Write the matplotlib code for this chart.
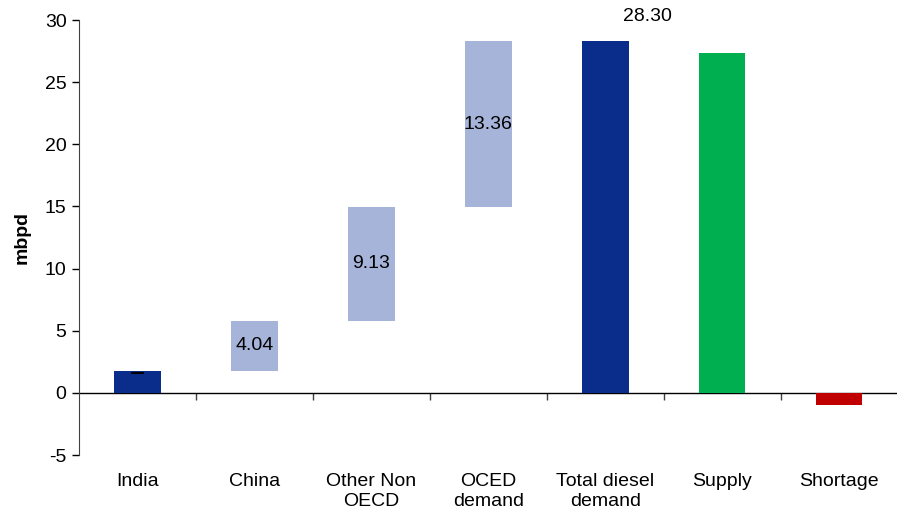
import matplotlib
matplotlib.use("Agg")
import matplotlib.pyplot as plt

plt.rcParams['font.family'] = ['Liberation Sans', 'DejaVu Sans']
plt.rcParams['axes.unicode_minus'] = False

# data
categories = ["India", "China", "Other Non\nOECD", "OCED\ndemand",
              "Total diesel\ndemand", "Supply", "Shortage"]
increments = [1.77, 4.04, 9.13, 13.36]
total = 28.30
supply = 27.33
shortage = -0.97

dark_blue = "#0A2D8C"
light_blue = "#A6B4DA"
green = "#00B050"
red = "#C00000"

fig = plt.figure(figsize=(9.05, 5.13), dpi=100)
ax = fig.add_axes([0.0873, 0.113, 0.9044, 0.848])

# waterfall steps
base = 0
for i, v in enumerate(increments):
    col = dark_blue if i == 0 else light_blue
    ax.bar(i, v, bottom=base, width=0.4, color=col, zorder=2)
    if i == 0:
        ax.plot([i - 0.05, i + 0.05], [v - 0.15, v - 0.15], color="black", lw=1.5, zorder=3)
    else:
        ax.text(i, base + v / 2, f"{v:.2f}", ha="center", va="center", fontsize=14, zorder=3)
    base += v

ax.bar(4, total, width=0.4, color=dark_blue, zorder=2)
ax.text(4.36, total + 1.3, f"{total:.2f}", ha="center", va="bottom", fontsize=14)
ax.bar(5, supply, width=0.4, color=green, zorder=2)
ax.bar(6, shortage, width=0.4, color=red, zorder=2)

ax.axhline(0, color="black", lw=1, zorder=1)

ax.set_xlim(-0.5, 6.5)
ax.set_ylim(-5, 30)
ax.set_yticks(range(-5, 31, 5))
ax.tick_params(axis="y", labelsize=14, length=5, width=1, pad=4)
ax.set_xticks(range(len(categories)))
ax.set_xticklabels(categories, fontsize=14, linespacing=1.2)
ax.tick_params(axis="x", length=0, pad=13)

for s in ["top", "right", "bottom"]:
    ax.spines[s].set_visible(False)
ax.spines["left"].set_color("#404040")

# tick marks between categories on the zero line
sec = ax.secondary_xaxis(5 / 35)
sec.set_xticks([i + 0.5 for i in range(len(categories) - 1)])
sec.set_xticklabels([])
sec.tick_params(length=5, width=1, color="#404040")
sec.spines["bottom"].set_visible(False)

ax.set_ylabel("mbpd", fontsize=14, fontweight="bold", labelpad=10)

fig.savefig("out.png", dpi=100)
